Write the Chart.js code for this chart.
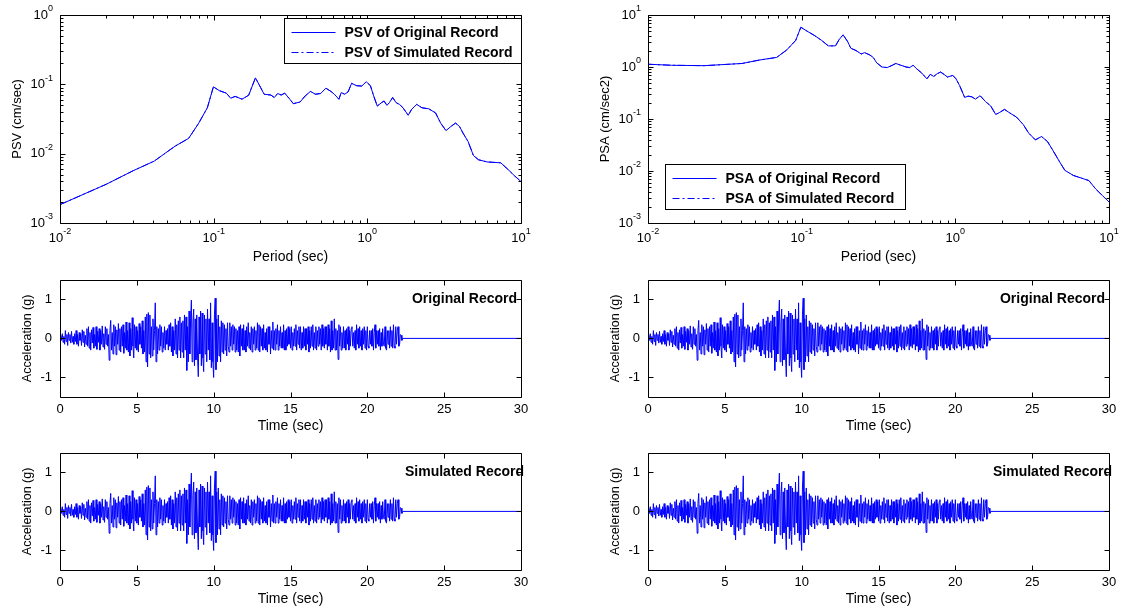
<!DOCTYPE html>
<html>
<head>
<meta charset="utf-8">
<script src="https://cdn.jsdelivr.net/npm/chart.js@4.4.0/dist/chart.umd.min.js"></script>
<style>
  body { margin: 0; background: #fff; width: 1123px; height: 610px; position: relative; overflow: hidden; }
  canvas { position: absolute; }
</style>
</head>
<body>
<canvas id="psv"></canvas>
<canvas id="psa"></canvas>
<canvas id="accOrigL"></canvas>
<canvas id="accOrigR"></canvas>
<canvas id="accSimL"></canvas>
<canvas id="accSimR"></canvas>
<script>
// Response spectra
const psvPeriod = [0.01, 0.02, 0.030, 0.041, 0.056, 0.0687, 0.080, 0.091, 0.0996, 0.109, 0.121, 0.129, 0.138, 0.153, 0.169,
  0.187, 0.202, 0.213, 0.236, 0.248, 0.261, 0.275, 0.29, 0.313, 0.33, 0.365, 0.394, 0.426, 0.46, 0.497, 0.537, 0.58,
  0.61, 0.653, 0.676, 0.713, 0.75, 0.79, 0.853, 0.92, 0.984, 1.047, 1.10, 1.16, 1.235, 1.286, 1.34, 1.39, 1.462, 1.54,
  1.62, 1.706, 1.845, 1.94, 2.096, 2.265, 2.51, 2.78, 3.0, 3.25, 3.5, 3.75, 3.98, 4.2, 4.53, 4.9, 5.29, 6.01, 7.38,
  8.18, 9.07, 10];
const psvValues = [0.00184, 0.00362, 0.00569, 0.0078, 0.0128, 0.0166, 0.0276, 0.046, 0.092, 0.081, 0.0746, 0.063, 0.067, 0.061, 0.0697,
  0.124, 0.090, 0.072, 0.070, 0.0645, 0.0738, 0.070, 0.0746, 0.061, 0.0526, 0.0556, 0.068, 0.079, 0.072, 0.0738, 0.088, 0.079,
  0.072, 0.061, 0.076, 0.072, 0.078, 0.1035, 0.0955, 0.0945, 0.109, 0.0955, 0.068, 0.0486, 0.0543, 0.0575, 0.0497, 0.0543, 0.0645, 0.0543,
  0.0513, 0.0459, 0.0358, 0.0434, 0.0514, 0.0459, 0.0444, 0.0387, 0.0276, 0.0215, 0.0247, 0.0276, 0.0247, 0.0197, 0.0149, 0.0094, 0.00817, 0.0076, 0.00738,
  0.006, 0.0048, 0.00396];

const psaPeriod = [0.01, 0.0142, 0.0232, 0.041, 0.053, 0.0688, 0.080, 0.0914, 0.0988, 0.107, 0.1217, 0.135, 0.149, 0.166, 0.175,
  0.186, 0.199, 0.209, 0.226, 0.244, 0.257, 0.278, 0.292, 0.308, 0.333, 0.36, 0.389, 0.41, 0.442, 0.478, 0.504, 0.531,
  0.559, 0.604, 0.653, 0.687, 0.724, 0.762, 0.802, 0.845, 0.889, 0.962, 1.01, 1.066, 1.15, 1.21, 1.28, 1.35, 1.45, 1.57,
  1.70, 1.83, 1.93, 2.09, 2.25, 2.50, 2.77, 3.0, 3.32, 3.64, 3.98, 4.3, 4.77, 5.16, 5.87, 6.86, 7.4, 8.2, 9.1, 10];
const psaValues = [1.13, 1.08, 1.06, 1.17, 1.36, 1.53, 2.13, 3.24, 5.82, 5.01, 4.0, 3.24, 2.55, 2.55, 3.34,
  4.17, 3.09, 2.29, 2.07, 1.78, 1.89, 1.70, 1.53, 1.2, 1.0, 0.975, 1.08, 1.17, 1.08, 1.0, 0.975, 1.08,
  0.93, 0.766, 0.593, 0.721, 0.659, 0.743, 0.80, 0.72, 0.64, 0.69, 0.593, 0.44, 0.26, 0.275, 0.267, 0.241, 0.28, 0.217,
  0.178, 0.1225, 0.132, 0.153, 0.132, 0.1087, 0.078, 0.0536, 0.0397, 0.046, 0.0368, 0.0253, 0.015, 0.0103, 0.0082, 0.00705, 0.00654, 0.0045, 0.00333, 0.00254];

// Acceleration history, one value every 0.05 s (one row per second), flat zero after 22.3 s
const accelStep = 0.05;
const accelEndTime = 30;
const accelRecord = [
  0, 0.08, -0.05, 0.12, -0.1, 0.05, -0.15, 0.2, -0.08, 0.1, -0.18, 0.15, -0.05, 0.1, -0.12, 0.18, -0.1, 0.05, -0.15, 0.12,
  -0.08, 0.2, -0.15, 0.1, -0.2, 0.15, -0.05, 0.12, -0.18, 0.22, -0.1, 0.18, -0.22, 0.08, -0.15, 0.25, -0.2, 0.3, -0.25, 0.15,
  -0.3, 0.22, -0.12, 0.28, -0.25, 0.1, -0.2, 0.3, -0.28, 0.18, -0.1, 0.25, -0.3, 0.2, -0.15, 0.32, -0.22, 0.12, -0.28, 0.3,
  -0.15, 0.25, -0.2, 0.1, -0.56, 0.2, 0.46, -0.3, 0.15, -0.4, 0.35, -0.2, 0.3, -0.42, 0.22, -0.15, 0.38, -0.3, 0.25, -0.35,
  0.3, -0.2, 0.35, -0.38, 0.15, -0.25, 0.42, -0.3, 0.2, -0.35, 0.4, -0.45, 0.25, -0.3, 0.53, -0.2, -0.5, 0.35, -0.25, 0.3,
  -0.3, 0.2, -0.35, 0.38, -0.15, 0.3, -0.25, 0.45, -0.4, 0.2, -0.35, 0.55, -0.6, 0.62, -0.73, 0.66, -0.4, 0.6, -0.5, 0.3,
  -0.45, 0.5, -0.3, 0.2, 0.91, -0.6, 0.3, -0.4, 0.25, -0.3, 0.35, -0.2, 0.3, -0.35, 0.15, -0.25, 0.3, -0.3, 0.2, -0.15,
  0.25, -0.3, 0.35, -0.2, 0.4, -0.35, 0.3, -0.45, 0.2, -0.3, 0.5, -0.4, 0.35, -0.5, 0.45, -0.3, 0.55, -0.5, 0.4, -0.35,
  0.45, -0.5, 0.6, -0.3, 0.55, -0.82, 0.3, -0.6, 0.7, -0.4, 0.5, 0.98, -0.6, 0.4, 0.75, -0.7, 0.5, -0.55, 0.6, -0.45,
  -0.98, 0.55, -0.4, 0.7, -0.7, 0.65, -0.5, -0.85, 0.6, -0.4, 0.5, -0.6, 0.75, -0.3, 0.5, -0.55, 0.91, -0.75, 0.4, -0.6,
  -1.0, 0.6, 1.03, -0.8, 0.5, -0.6, 0.6, -0.45, 0.3, -0.6, 0.45, -0.35, 0.4, -0.4, 0.35, -0.3, 0.25, -0.45, 0.4, -0.2,
  -0.35, 0.4, -0.2, 0.3, -0.3, 0.35, -0.15, 0.3, -0.35, 0.25, -0.3, 0.2, -0.35, 0.3, -0.45, 0.35, -0.2, 0.25, -0.3, 0.35,
  -0.3, 0.2, -0.35, 0.3, -0.2, 0.4, -0.25, 0.15, -0.3, 0.3, -0.35, 0.25, -0.15, 0.3, -0.3, 0.2, -0.25, 0.4, -0.3, 0.35,
  -0.35, 0.3, -0.2, 0.25, -0.3, 0.35, -0.25, 0.15, -0.3, 0.25, -0.35, 0.3, -0.15, 0.3, -0.4, 0.2, -0.25, 0.42, -0.3, 0.2,
  -0.3, 0.25, -0.15, 0.35, -0.3, 0.2, -0.2, 0.3, -0.25, 0.15, -0.25, 0.35, -0.3, 0.2, -0.3, 0.25, -0.2, 0.3, -0.15, 0.25,
  -0.25, 0.3, -0.3, 0.15, -0.2, 0.25, -0.2, 0.35, -0.3, 0.2, -0.15, 0.3, -0.25, 0.3, -0.3, 0.15, -0.25, 0.3, -0.2, 0.25,
  -0.3, 0.25, -0.15, 0.3, -0.35, 0.2, -0.25, 0.3, -0.2, 0.35, -0.3, 0.15, -0.25, 0.3, -0.3, 0.2, -0.2, 0.3, -0.15, 0.25,
  -0.3, 0.35, -0.2, 0.25, -0.25, 0.3, -0.15, 0.3, -0.3, 0.35, -0.2, 0.25, -0.35, 0.45, -0.3, 0.2, -0.25, 0.5, -0.3, 0.25,
  -0.3, 0.2, -0.54, 0.35, -0.2, 0.3, -0.3, 0.15, -0.25, 0.3, -0.25, 0.2, -0.3, 0.25, -0.15, 0.3, -0.3, 0.2, -0.2, 0.25,
  0.3, -0.2, 0.15, -0.25, 0.2, -0.3, 0.35, -0.15, 0.25, -0.25, 0.3, -0.2, 0.2, -0.3, 0.25, -0.15, 0.3, -0.25, 0.2, -0.3,
  0.3, -0.2, -0.25, 0.2, -0.15, 0.2, -0.2, 0.25, -0.3, 0.15, 0.35, -0.25, 0.2, -0.15, 0.2, -0.2, 0.25, -0.3, 0.15, -0.2,
  0.25, -0.15, -0.2, 0.3, -0.25, -0.3, 0.2, -0.15, 0.2, -0.25, 0.3, -0.2, 0.2, -0.25, 0.35, -0.2, -0.25, 0.3, -0.15, 0.2,
  0.3, -0.2, -0.15, 0.1, 0.08, -0.05, 0
];

const periodTicks = [0.01, 0.1, 1, 10];
const psvTicks = [0.001, 0.01, 0.1, 1];
const psaTicks = [0.001, 0.01, 0.1, 1, 10];
const timeTicks = [0, 5, 10, 15, 20, 25, 30];
const accelTicks = [-1, 0, 1];

const BLUE = '#0000ff';
const FONT = '"Liberation Sans", Arial, sans-serif';
const DASH_DOT = [7, 3, 2, 3];

function toPoints(xs, ys) {
  return xs.map((x, i) => ({ x: x, y: ys[i] }));
}

function accelPoints() {
  const pts = accelRecord.map((a, i) => ({ x: +(i * accelStep).toFixed(2), y: a }));
  pts.push({ x: accelEndTime, y: 0 });
  return pts;
}

// "10" with a raised exponent, like MATLAB log axes
function drawPow10(ctx, v, x, y, align) {
  const exp = String(Math.round(Math.log10(v)));
  ctx.textBaseline = 'middle';
  ctx.textAlign = 'left';
  ctx.font = '13px ' + FONT;
  const w1 = ctx.measureText('10').width;
  ctx.font = '9px ' + FONT;
  const w2 = ctx.measureText(exp).width;
  const start = align === 'center' ? x - (w1 + w2) / 2 : x - (w1 + w2);
  ctx.font = '13px ' + FONT;
  ctx.fillText('10', start, y);
  ctx.font = '9px ' + FONT;
  ctx.fillText(exp, start + w1, y - 6);
}

// MATLAB-like box, inward ticks, legend and text label
const matlabAxes = {
  id: 'matlab',
  afterDraw(chart, args, opts) {
    const { ctx, chartArea: a, scales: { x, y } } = chart;
    const L = Math.round(a.left) + 0.5, R = Math.round(a.right) + 0.5;
    const T = Math.round(a.top) + 0.5, B = Math.round(a.bottom) + 0.5;
    ctx.save();
    ctx.strokeStyle = '#000';
    ctx.lineWidth = 1;
    ctx.beginPath();

    const xTick = (v, len) => {
      const px = Math.round(x.getPixelForValue(v)) + 0.5;
      ctx.moveTo(px, B); ctx.lineTo(px, B - len);
      ctx.moveTo(px, T); ctx.lineTo(px, T + len);
    };
    const yTick = (v, len) => {
      const py = Math.round(y.getPixelForValue(v)) + 0.5;
      ctx.moveTo(L, py); ctx.lineTo(L + len, py);
      ctx.moveTo(R, py); ctx.lineTo(R - len, py);
    };
    const minorLog = (scale, fn) => {
      for (let d = Math.log10(scale.min); d < Math.log10(scale.max); d++) {
        for (let k = 2; k <= 9; k++) fn(k * Math.pow(10, d), 3);
      }
    };

    x.ticks.forEach(t => xTick(t.value, 5));
    y.ticks.forEach(t => yTick(t.value, 5));
    if (x.type === 'logarithmic') minorLog(x, xTick);
    if (y.type === 'logarithmic') minorLog(y, yTick);
    ctx.rect(L, T, R - L, B - T);
    ctx.stroke();

    // log tick labels
    ctx.fillStyle = '#000';
    if (x.type === 'logarithmic') {
      x.ticks.forEach(t => drawPow10(ctx, t.value, x.getPixelForValue(t.value), a.bottom + 15, 'center'));
    }
    if (y.type === 'logarithmic') {
      y.ticks.forEach(t => drawPow10(ctx, t.value, a.left - 7, y.getPixelForValue(t.value), 'right'));
    }

    // legend box
    if (opts.legend) {
      const lg = opts.legend;
      const bx = lg.right !== undefined ? Math.round(a.right - lg.width) + 0.5 : Math.round(a.left + lg.left) + 0.5;
      const by = lg.top !== undefined ? Math.round(a.top + lg.top) + 0.5 : Math.round(a.bottom - lg.bottom - lg.height) + 0.5;
      ctx.fillStyle = '#fff';
      ctx.fillRect(bx, by, lg.width, lg.height);
      ctx.strokeStyle = '#000';
      ctx.setLineDash([]);
      ctx.strokeRect(bx, by, lg.width, lg.height);
      ctx.font = 'bold 14px ' + FONT;
      ctx.textBaseline = 'middle';
      ctx.textAlign = 'left';
      chart.data.datasets.forEach((ds, i) => {
        const ry = Math.round(by + 13 + i * 20) + 0.5;
        ctx.strokeStyle = ds.borderColor;
        ctx.setLineDash(ds.borderDash || []);
        ctx.beginPath();
        ctx.moveTo(bx + 7, ry);
        ctx.lineTo(bx + 51, ry);
        ctx.stroke();
        ctx.fillStyle = '#000';
        ctx.fillText(ds.label, bx + 60, ry + 1);
      });
      ctx.setLineDash([]);
    }

    // record name in the upper right corner
    if (opts.note) {
      ctx.font = 'bold 14px ' + FONT;
      ctx.fillStyle = '#000';
      ctx.textAlign = 'right';
      ctx.textBaseline = 'middle';
      ctx.fillText(opts.note, a.right + opts.noteDx, y.getPixelForValue(1));
    }
    ctx.restore();
  }
};

function axisOpts(cfg) {
  const isLog = cfg.type === 'logarithmic';
  return {
    type: cfg.type,
    min: cfg.min,
    max: cfg.max,
    grid: { display: false, drawTicks: false },
    border: { display: false },
    afterBuildTicks: s => { s.ticks = cfg.ticks.map(v => ({ value: v })); },
    ticks: {
      display: !isLog,
      autoSkip: false,
      maxRotation: 0,
      padding: cfg.pad,
      color: '#000',
      font: { family: FONT, size: 13 },
      callback: v => String(v)
    },
    title: {
      display: true,
      text: cfg.title,
      color: '#000',
      font: { family: FONT, size: cfg.titleSize },
      padding: cfg.titlePad
    },
    afterFit: cfg.fit
  };
}

// plot rectangles in page pixels: [left, top, right, bottom]
const MARGIN_L = 60, MARGIN_T = 15, MARGIN_R = 15, MARGIN_B = 50;

function makePanel(id, rect, datasets, xCfg, yCfg, pluginOpts) {
  const cv = document.getElementById(id);
  cv.width = rect[2] - rect[0] + MARGIN_L + MARGIN_R;
  cv.height = rect[3] - rect[1] + MARGIN_T + MARGIN_B;
  cv.style.left = (rect[0] - MARGIN_L) + 'px';
  cv.style.top = (rect[1] - MARGIN_T) + 'px';
  xCfg.fit = s => { s.height = MARGIN_B; };
  yCfg.fit = s => { s.width = MARGIN_L; };
  return new Chart(cv.getContext('2d'), {
    type: 'line',
    data: { datasets: datasets },
    options: {
      responsive: false,
      animation: false,
      parsing: false,
      layout: { padding: { top: MARGIN_T, right: MARGIN_R, left: 0, bottom: 0 } },
      elements: { point: { radius: 0 }, line: { tension: 0 } },
      plugins: { legend: { display: false }, tooltip: { enabled: false }, matlab: pluginOpts },
      scales: { x: axisOpts(xCfg), y: axisOpts(yCfg) }
    },
    plugins: [matlabAxes]
  });
}

function spectrumSets(name, xs, ys) {
  return [
    { label: name + ' of Original Record', data: toPoints(xs, ys), borderColor: BLUE, borderWidth: 1 },
    { label: name + ' of Simulated Record', data: toPoints(xs, ys), borderColor: BLUE, borderWidth: 1, borderDash: DASH_DOT }
  ];
}

function accelSet(label) {
  return [{ label: label, data: accelPoints(), borderColor: BLUE, borderWidth: 1 }];
}

const periodAxis = () => ({ type: 'logarithmic', min: 0.01, max: 10, ticks: periodTicks, pad: 6, title: 'Period (sec)', titleSize: 14, titlePad: { top: 0, bottom: 7 } });
const timeAxis = () => ({ type: 'linear', min: 0, max: 30, ticks: timeTicks, pad: 5, title: 'Time (sec)', titleSize: 14, titlePad: { top: 0, bottom: 12 } });
const accelAxis = () => ({ type: 'linear', min: -1.5, max: 1.5, ticks: accelTicks, pad: 8, title: 'Acceleration (g)', titleSize: 12.5, titlePad: { top: 20, bottom: 0 } });

makePanel('psv', [60, 15, 521, 223], spectrumSets('PSV', psvPeriod, psvValues), periodAxis(),
  { type: 'logarithmic', min: 0.001, max: 1, ticks: psvTicks, pad: 6, title: 'PSV (cm/sec)', titleSize: 13, titlePad: { top: 10, bottom: 0 } },
  { legend: { right: 0, top: 3, width: 237, height: 45 } });

makePanel('psa', [648, 15, 1109, 223], spectrumSets('PSA', psaPeriod, psaValues), periodAxis(),
  { type: 'logarithmic', min: 0.001, max: 10, ticks: psaTicks, pad: 6, title: 'PSA (cm/sec2)', titleSize: 13, titlePad: { top: 10, bottom: 0 } },
  { legend: { left: 17, bottom: 14, width: 240, height: 45 } });

makePanel('accOrigL', [60, 279, 521, 397], accelSet('Original Record'), timeAxis(), accelAxis(), { note: 'Original Record', noteDx: -4 });
makePanel('accOrigR', [648, 279, 1109, 397], accelSet('Original Record'), timeAxis(), accelAxis(), { note: 'Original Record', noteDx: -4 });
makePanel('accSimL', [60, 452, 521, 570], accelSet('Simulated Record'), timeAxis(), accelAxis(), { note: 'Simulated Record', noteDx: 3 });
makePanel('accSimR', [648, 452, 1109, 570], accelSet('Simulated Record'), timeAxis(), accelAxis(), { note: 'Simulated Record', noteDx: 3 });
</script>
</body>
</html>
